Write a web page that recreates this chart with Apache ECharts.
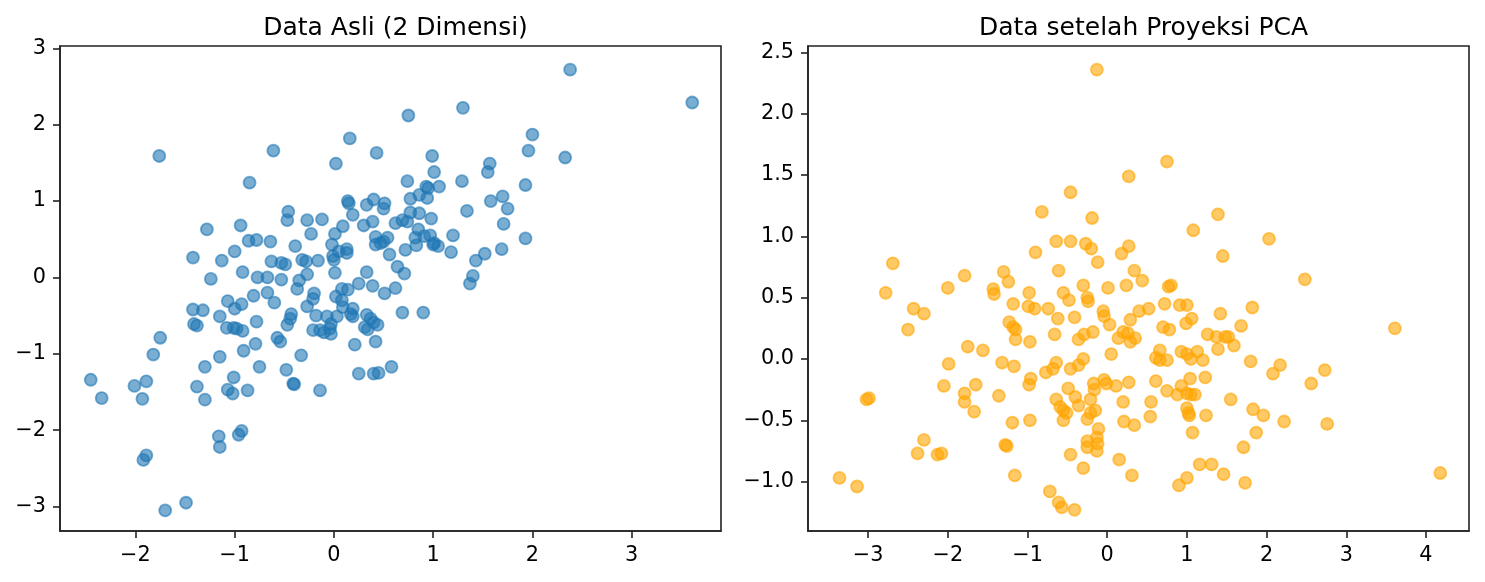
<!DOCTYPE html>
<html>
<head>
<meta charset="utf-8">
<title>PCA</title>
<script src="https://cdn.jsdelivr.net/npm/echarts@6/dist/echarts.min.js"></script>
<style>
  html, body { margin: 0; padding: 0; background: #fff; }
  #Chart { width: 1485px; height: 582px; }
</style>
</head>
<body>
<div id="Chart"></div>
<script>
// Data Asli (2 Dimensi)
var originalPoints = [
  [-1.76,1.59],[-0.61,1.66],[0.16,1.82],[0.43,1.63],[0.02,1.49],[-0.85,1.24],
  [0.14,1.0],[0.15,0.97],[0.33,0.95],[0.40,1.02],[0.51,0.97],[0.50,0.90],[0.19,0.82],
  [-0.46,0.86],[-0.47,0.75],[-0.27,0.75],[-0.12,0.76],[0.09,0.67],[0.30,0.68],[0.39,0.73],
  [-1.28,0.63],[-0.94,0.68],[0.01,0.57],[-0.23,0.57],[-0.86,0.48],[-0.78,0.49],[-0.64,0.47],[-0.39,0.41],[-0.02,0.43],
  [0.42,0.53],[0.50,0.47],[0.54,0.52],[0.42,0.43],[0.47,0.45],
  [-1.42,0.26],[-1.13,0.22],[-1.00,0.34],[-0.63,0.21],[-0.53,0.19],[-0.49,0.17],[-0.32,0.23],[-0.28,0.21],[-0.16,0.22],[-0.01,0.28],[0.00,0.23],
  [0.13,0.37],[0.13,0.32],[0.05,0.34],[0.56,0.30],[0.64,0.14],
  [-0.92,0.07],[-1.24,-0.02],[-0.77,0.00],[-0.67,0.00],[-0.53,-0.03],[-0.35,-0.04],[-0.27,0.04],[0.01,0.06],[0.33,0.07],
  [-0.37,-0.15],[-0.20,-0.21],[-0.21,-0.28],[-0.27,-0.38],[-0.81,-0.24],[-0.67,-0.20],[-0.60,-0.33],[-1.07,-0.31],[-1.00,-0.41],[-0.93,-0.35],
  [-1.42,-0.42],[-1.32,-0.43],[-1.41,-0.61],[-1.38,-0.63],[-1.15,-0.51],
  [-1.08,-0.66],[-1.01,-0.66],[-0.98,-0.67],[-0.92,-0.70],[-0.78,-0.58],[-0.79,-0.87],[-0.91,-0.96],[-1.15,-1.04],[-1.30,-1.17],
  [-1.38,-1.43],[-1.30,-1.60],[-1.01,-1.31],[-1.07,-1.47],[-1.02,-1.52],[-0.87,-1.48],[-0.75,-1.17],
  [-0.57,-0.79],[-0.54,-0.84],[-0.47,-0.62],[-0.44,-0.54],[-0.43,-0.48],[-0.33,-1.02],[-0.48,-1.21],[-0.41,-1.39],[-0.40,-1.40],[-0.14,-1.48],
  [-0.18,-0.50],[-0.21,-0.69],[-0.14,-0.69],[-0.10,-0.72],[-0.07,-0.51],[-0.03,-0.61],[-0.03,-0.74],[-0.04,-0.67],[0.03,-0.51],
  [0.02,-0.25],[0.08,-0.15],[0.14,-0.16],[0.08,-0.30],[0.09,-0.39],[0.19,-0.41],[0.17,-0.48],[0.19,-0.51],
  [0.25,-0.08],[0.39,-0.11],[0.51,-0.21],[0.62,-0.14],
  [0.33,-0.49],[0.37,-0.54],[0.40,-0.59],[0.44,-0.62],[0.31,-0.65],[0.34,-0.68],[0.42,-0.84],[0.21,-0.88],
  [0.25,-1.26],[0.40,-1.26],[0.45,-1.25],[0.58,-1.17],
  [0.69,-0.46],[0.90,-0.46],[1.37,-0.08],[1.40,0.02],
  [-2.45,-1.34],[-2.34,-1.58],[-1.75,-0.79],[-1.82,-1.01],[-2.01,-1.42],[-1.89,-1.36],[-1.93,-1.59],[-1.89,-2.33],[-1.92,-2.39],
  [-1.16,-2.08],[-1.15,-2.22],[-0.93,-2.01],[-0.96,-2.06],[-1.49,-2.95],[-1.70,-3.05],
  [2.38,2.72],[3.61,2.29],[0.75,2.12],[1.30,2.22],[2.00,1.87],[1.96,1.66],[2.33,1.57],[0.99,1.59],[1.57,1.49],[1.55,1.38],[1.01,1.38],
  [0.74,1.26],[1.29,1.26],[0.93,1.19],[0.95,1.17],[1.06,1.19],[1.93,1.21],[0.77,1.03],[0.86,1.08],[0.94,1.04],[1.58,1.00],[1.70,1.06],[1.75,0.90],
  [1.34,0.87],[0.77,0.85],[0.86,0.84],[0.98,0.77],[0.62,0.71],[0.69,0.75],[0.74,0.73],[1.71,0.70],[1.20,0.55],
  [0.85,0.63],[0.82,0.52],[0.91,0.54],[0.97,0.55],[0.83,0.42],[1.00,0.43],[1.05,0.41],[1.01,0.45],
  [1.18,0.33],[0.72,0.36],[0.71,0.05],[1.43,0.22],[1.52,0.31],[1.69,0.37],[1.93,0.51]
];

// Data setelah Proyeksi PCA
var pcaPoints = [
  [-0.13,2.36],[0.27,1.49],[-0.46,1.36],[-0.82,1.20],[-0.19,1.15],[-2.69,0.78],[-0.64,0.96],[-0.46,0.96],[-0.27,0.94],[-0.20,0.90],[-0.90,0.87],
  [0.18,0.86],[0.27,0.92],[-0.12,0.79],[-0.61,0.72],[0.34,0.72],[-1.79,0.68],[-1.30,0.71],[-1.24,0.63],[-2.00,0.58],[-1.43,0.57],[-0.30,0.60],[0.01,0.58],[0.24,0.60],[0.44,0.64],
  [0.75,1.61],[1.39,1.18],[1.08,1.05],[2.03,0.98],[1.45,0.84],[2.48,0.65],
  [0.77,0.59],[0.80,0.60],[0.72,0.45],[0.91,0.44],[1.00,0.44],[1.06,0.33],[0.99,0.29],[1.42,0.37],[1.82,0.42],[0.52,0.41],
  [0.70,0.26],[0.78,0.24],[1.68,0.27],[3.61,0.25],[1.26,0.20],[1.37,0.18],[1.48,0.18],[1.52,0.18],[1.39,0.08],[1.59,0.11],
  [0.66,0.07],[0.61,0.01],[0.66,-0.01],[0.75,-0.01],[0.93,0.06],[1.00,0.04],[1.05,0.00],[1.13,0.06],[1.20,-0.01],[1.80,-0.02],
  [2.17,-0.05],[2.08,-0.12],[2.73,-0.09],[2.56,-0.20],[0.61,-0.18],[0.75,-0.26],[0.93,-0.22],[1.04,-0.16],[0.88,-0.29],[1.00,-0.28],[1.10,-0.29],[1.05,-0.29],
  [1.23,-0.15],[1.55,-0.33],[0.55,-0.35],[1.00,-0.40],[1.02,-0.44],[1.03,-0.46],[0.54,-0.47],[1.24,-0.46],[1.83,-0.41],[1.96,-0.46],[2.22,-0.51],[2.76,-0.53],
  [1.07,-0.60],[1.87,-0.60],[1.71,-0.72],[1.16,-0.86],[1.31,-0.86],[1.46,-0.94],[1.00,-0.97],[0.90,-1.03],[1.73,-1.01],[4.18,-0.93],
  [-2.78,0.54],[-1.42,0.53],[-0.98,0.54],[-0.55,0.54],[-0.48,0.48],[-0.25,0.50],[-0.24,0.47],[-2.43,0.41],[-2.30,0.37],[-2.50,0.24],
  [-1.18,0.45],[-0.99,0.43],[-0.91,0.41],[-0.74,0.41],[-0.62,0.33],[-0.41,0.34],[-0.05,0.39],[-0.04,0.35],[0.03,0.28],[0.29,0.32],[0.40,0.39],
  [-1.23,0.30],[-1.18,0.26],[-1.15,0.24],[-1.15,0.16],[-0.97,0.14],[-0.66,0.20],[-0.36,0.16],[-0.29,0.20],[-0.18,0.22],
  [0.14,0.17],[0.20,0.22],[0.29,0.14],[0.26,0.21],[0.35,0.17],[0.05,0.04],[-1.75,0.10],[-1.56,0.07],[-1.99,-0.04],[-1.32,-0.03],[-1.17,-0.06],
  [-0.96,-0.16],[-0.98,-0.21],[-0.77,-0.11],[-0.68,-0.08],[-0.64,-0.03],[-0.46,-0.08],[-0.36,-0.05],[-0.30,0.00],
  [-2.05,-0.22],[-1.79,-0.28],[-1.79,-0.35],[-1.65,-0.21],[-1.67,-0.43],[-1.36,-0.30],[-3.02,-0.33],[-2.99,-0.32],[-1.19,-0.52],[-0.97,-0.50],
  [-0.49,-0.24],[-0.64,-0.33],[-0.59,-0.39],[-0.55,-0.42],[-0.51,-0.44],[-0.55,-0.50],[-0.40,-0.31],[-0.36,-0.38],[-0.21,-0.33],[-0.16,-0.25],[-0.17,-0.20],
  [-0.25,-0.49],[-0.21,-0.44],[-0.15,-0.42],[-0.04,-0.17],[-0.01,-0.20],[0.11,-0.22],[0.27,-0.19],[0.20,-0.35],[0.21,-0.51],[0.34,-0.54],
  [-0.11,-0.57],[-0.13,-0.64],[-0.12,-0.69],[-0.25,-0.67],[-0.25,-0.72],[-0.13,-0.75],[-1.28,-0.70],[-1.26,-0.71],[-2.30,-0.66],[-2.38,-0.77],[-2.13,-0.78],[-2.08,-0.77],
  [-0.46,-0.78],[0.15,-0.82],[-0.30,-0.89],[0.31,-0.95],[-1.16,-0.95],[-3.36,-0.97],[-3.14,-1.04],[-0.72,-1.08],[-0.61,-1.17],[-0.57,-1.21],[-0.41,-1.23]
];

// Tick labels and axis limits
var leftXTicks = [-2, -1, 0, 1, 2, 3];
var leftYTicks = [-3, -2, -1, 0, 1, 2, 3];
var rightXTicks = [-3, -2, -1, 0, 1, 2, 3, 4];
var rightYTicks = [-1.0, -0.5, 0.0, 0.5, 1.0, 1.5, 2.0, 2.5];
var leftXRange = [-2.76, 3.90];
var leftYRange = [-3.32, 3.03];
var rightXRange = [-3.755, 4.54];
var rightYRange = [-1.403, 2.553];

var titles = ['Data Asli (2 Dimensi)', 'Data setelah Proyeksi PCA'];

var font = "'DejaVu Sans', sans-serif";
var edge = '#222';

function fmtInt(v) {
  return String(Math.round(v)).replace('-', '\u2212');
}
function fmtOne(v) {
  return v.toFixed(1).replace('-', '\u2212');
}

// Build one matplotlib-like axis
function makeAxis(idx, range, ticks, fmt, isX) {
  return {
    type: 'value',
    gridIndex: idx,
    min: range[0],
    max: range[1],
    position: isX ? 'bottom' : 'left',
    axisLine: { show: true, onZero: false, lineStyle: { color: edge, width: 1.6 } },
    axisTick: {
      show: true, inside: false, length: 7, customValues: ticks,
      lineStyle: { color: edge, width: 1.6 }
    },
    axisLabel: {
      show: true, customValues: ticks, margin: 14,
      color: '#000', fontFamily: font, fontSize: 20.8,
      formatter: fmt
    },
    splitLine: { show: false }
  };
}

var chart = echarts.init(document.getElementById('Chart'), null, { renderer: 'canvas' });

var option = {
  animation: false,
  backgroundColor: '#fff',
  title: [
    { text: titles[0], left: 390.5, top: 11, textAlign: 'center',
      textStyle: { fontFamily: font, fontSize: 25, fontWeight: 'normal', color: '#000' } },
    { text: titles[1], left: 1138.5, top: 11, textAlign: 'center',
      textStyle: { fontFamily: font, fontSize: 25, fontWeight: 'normal', color: '#000' } }
  ],
  grid: [
    { left: 60, top: 46, width: 661, height: 485, show: true, borderColor: edge, borderWidth: 1.6, backgroundColor: 'transparent' },
    { left: 808, top: 46, width: 661, height: 485, show: true, borderColor: edge, borderWidth: 1.6, backgroundColor: 'transparent' }
  ],
  xAxis: [
    makeAxis(0, leftXRange, leftXTicks, fmtInt, true),
    makeAxis(1, rightXRange, rightXTicks, fmtInt, true)
  ],
  yAxis: [
    makeAxis(0, leftYRange, leftYTicks, fmtInt, false),
    makeAxis(1, rightYRange, rightYTicks, fmtOne, false)
  ],
  series: [
    {
      type: 'scatter', xAxisIndex: 0, yAxisIndex: 0,
      symbolSize: 12, data: originalPoints,
      itemStyle: { color: '#1f77b4', opacity: 0.6, borderColor: '#1f77b4', borderWidth: 1.8 },
      emphasis: { disabled: true }
    },
    {
      type: 'scatter', xAxisIndex: 1, yAxisIndex: 1,
      symbolSize: 12, data: pcaPoints,
      itemStyle: { color: '#ffa500', opacity: 0.6, borderColor: '#ffa500', borderWidth: 1.8 },
      emphasis: { disabled: true }
    }
  ]
};

chart.setOption(option);
</script>
</body>
</html>
